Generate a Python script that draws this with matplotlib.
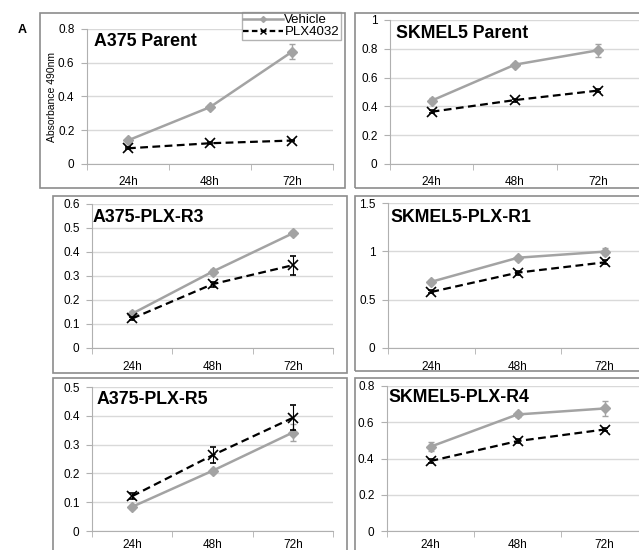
import numpy as np
import matplotlib
matplotlib.use("Agg")
import matplotlib.pyplot as plt
from matplotlib.patches import Rectangle
from matplotlib.lines import Line2D
from matplotlib.ticker import FormatStrFormatter

plt.rcParams['font.family'] = ['Liberation Sans', 'DejaVu Sans']

W, H = 639, 550

times = ["24h", "48h", "72h"]

titles = ["A375 Parent", "SKMEL5 Parent", "A375-PLX-R3",
          "SKMEL5-PLX-R1", "A375-PLX-R5", "SKMEL5-PLX-R4"]

vehicle = [
    [0.14, 0.337, 0.665],
    [0.44, 0.69, 0.79],
    [0.143, 0.318, 0.478],
    [0.685, 0.934, 0.997],
    [0.084, 0.209, 0.342],
    [0.465, 0.643, 0.676],
]
vehicle_err = [
    [0.01, 0.01, 0.045],
    [0.015, 0.01, 0.045],
    [0.01, 0.01, 0.008],
    [0.02, 0.02, 0.04],
    [0.008, 0.008, 0.029],
    [0.025, 0.015, 0.042],
]
plx = [
    [0.093, 0.123, 0.139],
    [0.363, 0.444, 0.51],
    [0.123, 0.266, 0.345],
    [0.58, 0.78, 0.886],
    [0.121, 0.263, 0.393],
    [0.386, 0.496, 0.56],
]
plx_err = [
    [0.005, 0.005, 0.005],
    [0.01, 0.01, 0.01],
    [0.008, 0.01, 0.04],
    [0.015, 0.02, 0.02],
    [0.01, 0.027, 0.043],
    [0.01, 0.01, 0.01],
]
ymax = [0.8, 1.0, 0.6, 1.5, 0.5, 0.8]
ystep = [0.2, 0.2, 0.1, 0.5, 0.1, 0.2]

# plot areas in pixels: left, right, top, bottom
areas = [
    (87, 333, 29, 164),
    (390, 640, 20, 164),
    (92, 333, 204, 348),
    (388, 648, 203, 348),
    (92, 333, 387, 531),
    (387, 648, 386, 531),
]
# panel frames in pixels: left, right, top, bottom
frames = [
    (40, 345, 13, 188),
    (355, 660, 13, 188),
    (53, 347, 196, 373),
    (355, 660, 196, 371),
    (53, 347, 378, 570),
    (355, 660, 378, 570),
]
# title positions (left x, center y)
title_pos = [(94, 41), (396, 33), (93, 218), (390, 217), (97, 400), (388, 398)]

fig = plt.figure(figsize=(W / 100, H / 100), dpi=100)

for (l, r, t, b) in frames:
    fig.patches.append(Rectangle((l / W, 1 - b / H), (r - l) / W, (b - t) / H,
                                 transform=fig.transFigure, fill=False,
                                 edgecolor="#8c8c8c", linewidth=1.2))

gray = "#a3a3a3"
x = np.arange(1, 4)
for i in range(6):
    l, r, t, b = areas[i]
    ax = fig.add_axes([l / W, 1 - b / H, (r - l) / W, (b - t) / H])
    ax.set_xlim(0.5, 3.5)
    ax.set_ylim(0, ymax[i])
    ax.set_yticks(np.round(np.arange(0, ymax[i] + 1e-9, ystep[i]), 2))
    ax.yaxis.set_major_formatter(FormatStrFormatter("%g"))
    ax.yaxis.grid(True, color="#d9d9d9", linewidth=1)
    ax.set_axisbelow(True)
    for s in ["top", "right"]:
        ax.spines[s].set_visible(False)
    for s in ["left", "bottom"]:
        ax.spines[s].set_color("#b0b0b0")
    ax.set_xticks(x)
    ax.set_xticklabels(times)
    ax.set_xticks([0.5, 1.5, 2.5, 3.5], minor=True)
    ax.tick_params(axis="x", which="major", length=0, labelsize=8.5,
                   pad=9 if i < 4 else 6)
    ax.tick_params(axis="x", which="minor", length=4, color="#b0b0b0", direction="out")
    ax.tick_params(axis="y", length=4, color="#b0b0b0", labelsize=8.5, pad=5)
    ax.patch.set_alpha(0)

    ax.errorbar(x, vehicle[i], yerr=vehicle_err[i], color=gray, linewidth=1.8,
                marker="D", markersize=5, markerfacecolor=gray,
                markeredgecolor=gray, ecolor=gray, elinewidth=1, capsize=2.5,
                zorder=3)
    ax.errorbar(x, plx[i], yerr=plx_err[i], color="black", linewidth=1.6,
                linestyle=(0, (3.5, 2)), marker="x", markersize=7,
                markeredgewidth=1.2, ecolor="black", elinewidth=0.8,
                capsize=2.5, zorder=4)

    tx, ty = title_pos[i]
    fig.text(tx / W, 1 - ty / H, titles[i], fontsize=12.8, fontweight="bold",
             ha="left", va="center")

    if i == 0:
        handles = [
            Line2D([], [], color=gray, linewidth=1.8, marker="D", markersize=3),
            Line2D([], [], color="black", linewidth=1.6, linestyle=(0, (2.5, 1.5)),
                   marker="x", markersize=5, markeredgewidth=1),
        ]
        leg = ax.legend(handles, ["Vehicle", "PLX4032"], loc="upper right",
                        bbox_to_anchor=(341 / W, 1 - 12 / H),
                        bbox_transform=fig.transFigure, fontsize=9.5,
                        frameon=True, fancybox=False, borderpad=0.15,
                        handlelength=3.0, handletextpad=0.1, labelspacing=0.0,
                        borderaxespad=0)
        leg.get_frame().set_edgecolor("#a0a0a0")
        leg.get_frame().set_linewidth(1)

fig.text(52 / W, 1 - 97 / H, "Absorbance 490nm", fontsize=7.5, rotation=90,
         ha="center", va="center")
fig.text(22 / W, 1 - 30 / H, "A", fontsize=9, fontweight="bold",
         ha="center", va="center")

fig.savefig("out.png", dpi=100)
